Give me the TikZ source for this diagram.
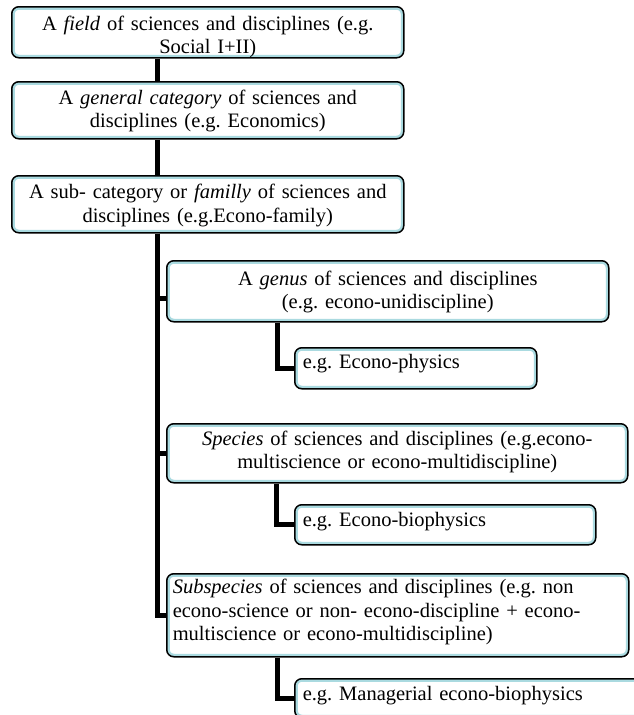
\documentclass[tikz,border=0pt]{standalone}
\usepackage{fontspec}
\setmainfont{Liberation Serif}
\frenchspacing
\definecolor{boxblue}{RGB}{170,218,224}
\tikzset{
  box/.style={draw=black, line width=1.5pt, rounded corners=7pt, fill=white,
    inner xsep=6pt, inner ysep=0pt, text depth=0pt, anchor=north west,
    font=\fontsize{20.5}{23.5}\selectfont\frenchspacing,
    path picture={\draw[boxblue, line width=6pt, rounded corners=7pt]
      (path picture bounding box.south west) rectangle (path picture bounding box.north east);}},
  conn/.style={draw=black, line width=5pt, line join=miter},
}
\begin{document}
\begin{tikzpicture}[x=1pt,y=1pt]
\useasboundingbox (0,0) rectangle (634,-715);
% level boxes
\node[box, minimum width=392pt, minimum height=51pt, text width=380pt, text height=19.5pt, text depth=23.5pt, align=center] (b1) at (11,-6)
  {A \textit{field} of sciences and disciplines (e.g.\\ Social I+II)};
\node[box, minimum width=392pt, minimum height=57pt, text width=380pt, text height=11.5pt, text depth=23.5pt, align=center] (b2) at (11,-81)
  {A \textit{general category} of sciences and\\ disciplines (e.g. Economics)};
\node[box, minimum width=392pt, minimum height=57pt, text width=380pt, text height=12.5pt, text depth=23.5pt, align=center] (b3) at (11,-175)
  {A sub- category or \textit{familly} of sciences and\\ disciplines (e.g.Econo-family)};
\node[box, minimum width=442pt, minimum height=61pt, text width=430pt, text height=11.5pt, text depth=23.5pt, align=center] (genus) at (166,-260)
  {A \textit{genus} of sciences and disciplines\\ (e.g. econo-unidiscipline)};
\node[box, minimum width=242pt, minimum height=41pt, text width=226pt, text height=1pt, inner xsep=8pt, align=left] (phys) at (294,-347)
  {e.g. Econo-physics};
\node[box, minimum width=461pt, minimum height=59pt, text width=449pt, text height=7.5pt, text depth=23.5pt, align=center] (spec) at (166,-423)
  {\textit{Species} of sciences and disciplines (e.g.econo-\\ multiscience or econo-multidiscipline)};
\node[box, minimum width=301pt, minimum height=40pt, text width=285pt, text height=4pt, inner xsep=8pt, align=left] (biop) at (294,-504)
  {e.g. Econo-biophysics};
\node[box, minimum width=462pt, minimum height=83pt, text width=450pt, text height=4pt, text depth=47pt, align=left] (sub) at (166,-573)
  {\textit{Subspecies} of sciences and disciplines (e.g. non\\ econo-science or non- econo-discipline + econo-\\ multiscience or econo-multidiscipline)};
\node[box, minimum width=360pt, minimum height=39pt, text width=344pt, text height=5pt, inner xsep=8pt, align=left] (man) at (294,-678)
  {e.g. Managerial econo-biophysics};
% connectors
\draw[conn] ([xshift=-50pt]b1.south) -- ([xshift=-50pt]b2.north);
\draw[conn] ([xshift=-50pt]b2.south) -- ([xshift=-50pt]b3.north);
\coordinate (sp) at ([xshift=-50pt]b3.south);
\draw[conn] (sp) |- (sub.west);
\draw[conn] (sp) |- ([yshift=-7.5pt]genus.west);
\draw[conn] (sp) |- (spec.west);
\draw[conn] ([xshift=-110pt]genus.south) |- (phys.west);
\draw[conn] ([xshift=-120.5pt]spec.south) |- (biop.west);
\draw[conn] ([xshift=-120pt]sub.south) |- (man.west);
\end{tikzpicture}
\end{document}
